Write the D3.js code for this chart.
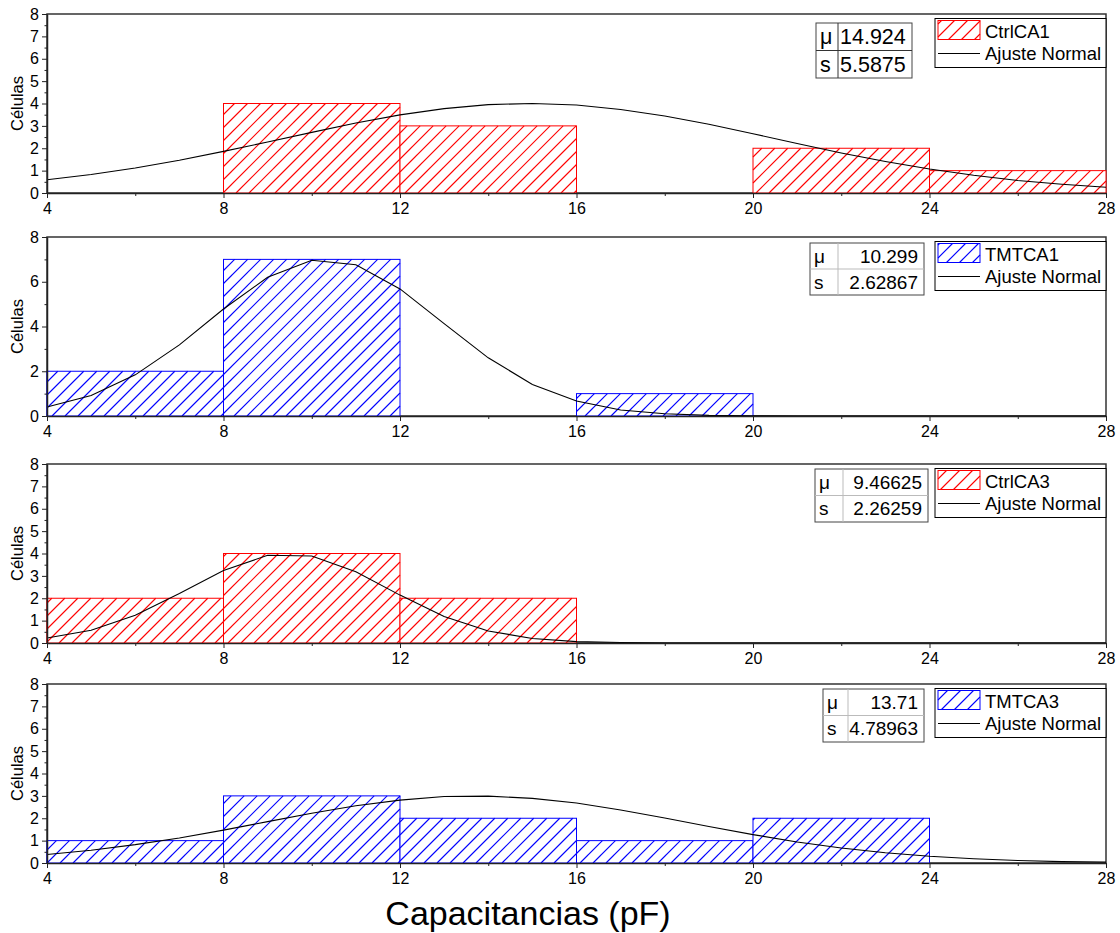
<!DOCTYPE html>
<html>
<head>
<meta charset="utf-8">
<script src="https://cdn.jsdelivr.net/npm/d3@7"></script>
<style>
  body { margin: 0; background: #fff; }
  svg { display: block; font-family: "Liberation Sans", Arial, sans-serif; }
</style>
</head>
<body>
<div id="chart"></div>
<script>
// ---- data ----
const binEdges = [4, 8, 12, 16, 20, 24, 28];
const xTickValues = [4, 8, 12, 16, 20, 24, 28];
const xMinorValues = [6, 10, 14, 18, 22, 26];
const yTicksAll = [0, 1, 2, 3, 4, 5, 6, 7, 8];
const yTicksEven = [0, 2, 4, 6, 8];
const fitX = [4, 5, 6, 7, 8, 9, 10, 11, 12, 13, 14, 15, 16, 17, 18, 19, 20, 21, 22, 23, 24, 25, 26, 27, 28];

const seriesNames = ["CtrlCA1", "TMTCA1", "CtrlCA3", "TMTCA3"];
const fitName = "Ajuste Normal";
const statMu = ["14.924", "10.299", "9.46625", "13.71"];
const statS = ["5.5875", "2.62867", "2.26259", "4.78963"];

const countsCtrlCA1 = [0, 4, 3, 0, 2, 1];
const countsTMTCA1 = [2, 7, 0, 1, 0, 0];
const countsCtrlCA3 = [2, 4, 2, 0, 0, 0];
const countsTMTCA3 = [1, 3, 2, 1, 2, 0];

const fitCtrlCA1 = [0.59, 0.83, 1.12, 1.46, 1.86, 2.28, 2.71, 3.13, 3.49, 3.77, 3.95, 4.00, 3.93, 3.73, 3.44, 3.07, 2.65, 2.21, 1.79, 1.41, 1.07, 0.79, 0.56, 0.39, 0.26];
const fitTMTCA1 = [0.40, 0.92, 1.84, 3.18, 4.78, 6.20, 6.96, 6.76, 5.68, 4.13, 2.60, 1.41, 0.67, 0.27, 0.10, 0.03, 0.01, 0, 0, 0, 0, 0, 0, 0, 0];
const fitCtrlCA3 = [0.22, 0.57, 1.24, 2.21, 3.24, 3.92, 3.89, 3.18, 2.14, 1.18, 0.54, 0.20, 0.06, 0.02, 0, 0, 0, 0, 0, 0, 0, 0, 0, 0, 0];
const fitTMTCA3 = [0.38, 0.57, 0.82, 1.12, 1.47, 1.85, 2.22, 2.56, 2.81, 2.97, 2.99, 2.89, 2.68, 2.37, 2.01, 1.63, 1.27, 0.94, 0.67, 0.46, 0.30, 0.19, 0.11, 0.06, 0.04];

// ---- layout ----
const width = 1120, height = 933;
const plotLeft = 47, plotRight = 1106, plotH = 179;
const red = "rgb(255,0,0)", blue = "rgb(0,0,255)";
const hatchStep = 13;

const panels = [
    { i: 0, counts: countsCtrlCA1, fit: fitCtrlCA1, yTicks: yTicksAll, color: red, top: 14,
      table: { x: 816, y: 23, w: 96, h: 55, col: 22, fs: 21.5, alignLeft: true, grid: "#333" } },
    { i: 1, counts: countsTMTCA1, fit: fitTMTCA1, yTicks: yTicksEven, color: blue, top: 237,
      table: { x: 810, y: 243, w: 114, h: 52, col: 28, fs: 19, grid: "#bbb" } },
    { i: 2, counts: countsCtrlCA3, fit: fitCtrlCA3, yTicks: yTicksAll, color: red, top: 464,
      table: { x: 815, y: 469, w: 113, h: 53, col: 28, fs: 19, grid: "#bbb" } },
    { i: 3, counts: countsTMTCA3, fit: fitTMTCA3, yTicks: yTicksAll, color: blue, top: 684,
      table: { x: 823, y: 689, w: 101, h: 53, col: 25, fs: 19, grid: "#bbb" } }
];

const svg = d3.select("#chart").append("svg")
    .attr("width", width)
    .attr("height", height);

// 45 degree hatch segments ("/") inside a rectangle, on a shared grid x + y = k*step
function hatchSegments(x0, y0, x1, y1) {
    const segs = [];
    const kStart = Math.ceil((x0 + y0) / hatchStep), kEnd = Math.floor((x1 + y1) / hatchStep);
    for (let k = kStart; k <= kEnd; k++) {
        const c = k * hatchStep;
        const xs = Math.max(x0, c - y1), xe = Math.min(x1, c - y0);
        if (xe - xs > 0.5) segs.push({ xs, ys: c - xs, xe, ye: c - xe });
    }
    return segs;
}

function hatchedRect(sel, x0, y0, x1, y1, color) {
    sel.append("rect")
        .attr("x", x0).attr("y", y0).attr("width", x1 - x0).attr("height", y1 - y0)
        .attr("fill", "#fff");
    sel.selectAll(".hatch").data(hatchSegments(x0, y0, x1, y1)).enter().append("line")
        .attr("class", "hatch")
        .attr("x1", d => d.xs).attr("y1", d => d.ys)
        .attr("x2", d => d.xe).attr("y2", d => d.ye)
        .style("stroke", color).style("stroke-width", "1.1px");
    sel.append("rect")
        .attr("x", x0).attr("y", y0).attr("width", x1 - x0).attr("height", y1 - y0)
        .attr("fill", "none").style("stroke", color).style("stroke-width", "1px");
}

const x = d3.scaleLinear().domain([4, 28]).range([plotLeft, plotRight]);

panels.forEach(p => {
    const y = d3.scaleLinear().domain([0, 8]).range([p.top + plotH, p.top]);
    const g = svg.append("g");

    // frame
    g.append("rect")
        .attr("x", plotLeft).attr("y", p.top)
        .attr("width", plotRight - plotLeft).attr("height", plotH)
        .attr("fill", "none").attr("stroke", "#333").attr("stroke-width", 1.5);

    // bars
    p.counts.forEach((c, k) => {
        if (c <= 0) return;
        hatchedRect(g.append("g"), x(binEdges[k]), y(c), x(binEdges[k + 1]), y(0), p.color);
    });

    // normal fit
    const line = d3.line().x((d, k) => x(fitX[k])).y(d => y(d));
    g.append("path")
        .attr("d", line(p.fit))
        .attr("fill", "none")
        .attr("stroke", "#000")
        .attr("stroke-width", 1.1);

    // axes
    const yMinor = d3.range(0, 8.01, p.yTicks === yTicksEven ? 1 : 0.5).filter(v => !p.yTicks.includes(v));
    const ax = g.append("g").attr("transform", `translate(${plotLeft},0)`)
        .call(d3.axisLeft(y).tickValues(p.yTicks).tickSize(5).tickPadding(3).tickSizeOuter(0));
    const axm = g.append("g").attr("transform", `translate(${plotLeft},0)`)
        .call(d3.axisLeft(y).tickValues(yMinor).tickSize(2.5).tickFormat("").tickSizeOuter(0));
    axm.select(".domain").remove();
    const bx = g.append("g").attr("transform", `translate(0,${p.top + plotH})`)
        .call(d3.axisBottom(x).tickValues(xTickValues).tickSize(5).tickPadding(5).tickSizeOuter(0));
    const bxm = g.append("g").attr("transform", `translate(0,${p.top + plotH})`)
        .call(d3.axisBottom(x).tickValues(xMinorValues).tickSize(3).tickFormat("").tickSizeOuter(0));
    bxm.select(".domain").remove();
    [ax, bx].forEach(a => {
        a.selectAll("text").attr("font-size", 16).attr("font-family", "Liberation Sans, Arial").attr("fill", "#000");
        a.select(".domain").attr("stroke", "#222").attr("stroke-width", 1.5);
    });
    [ax, axm, bx, bxm].forEach(a => a.selectAll(".tick line").attr("stroke", "#222"));

    // y title
    g.append("text")
        .attr("transform", `translate(23,${p.top + plotH / 2}) rotate(-90)`)
        .attr("text-anchor", "middle")
        .attr("font-size", 16.5)
        .text("Células");

    // stats table
    const t = p.table;
    const tg = g.append("g");
    tg.append("rect").attr("x", t.x).attr("y", t.y).attr("width", t.w).attr("height", t.h)
        .attr("fill", "#fff").attr("stroke", "#444").attr("stroke-width", 1);
    tg.append("line").attr("x1", t.x).attr("x2", t.x + t.w).attr("y1", t.y + t.h / 2).attr("y2", t.y + t.h / 2)
        .attr("stroke", t.grid);
    tg.append("line").attr("x1", t.x + t.col).attr("x2", t.x + t.col).attr("y1", t.y).attr("y2", t.y + t.h)
        .attr("stroke", t.grid);
    [["μ", statMu[p.i]], ["s", statS[p.i]]].forEach(([k, v], r) => {
        const cy = t.y + t.h / 4 + r * t.h / 2;
        tg.append("text").attr("x", t.x + 4).attr("y", cy).attr("dy", "0.35em")
            .attr("font-size", t.fs).text(k);
        tg.append("text")
            .attr("x", t.alignLeft ? t.x + t.col + 2 : t.x + t.w - 6)
            .attr("y", cy).attr("dy", "0.35em")
            .attr("text-anchor", t.alignLeft ? "start" : "end")
            .attr("font-size", t.fs).text(v);
    });

    // legend
    const lt = p.top + 4.5;
    const lg = g.append("g");
    lg.append("rect").attr("x", 935).attr("y", lt).attr("width", plotRight - 935).attr("height", 49)
        .attr("fill", "#fff").attr("stroke", "#000").attr("stroke-width", 1);
    hatchedRect(lg.append("g"), 938, lt + 2, 980, lt + 21, p.color);
    lg.append("text").attr("x", 985).attr("y", lt + 19).attr("font-size", 18.5).text(seriesNames[p.i]);
    lg.append("line").attr("x1", 938).attr("x2", 980).attr("y1", lt + 35).attr("y2", lt + 35)
        .attr("stroke", "#000");
    lg.append("text").attr("x", 985).attr("y", lt + 41).attr("font-size", 18.5).text(fitName);
});

svg.append("text")
    .attr("x", 528).attr("y", 925)
    .attr("text-anchor", "middle")
    .attr("font-size", 34)
    .text("Capacitancias (pF)");
</script>
</body>
</html>
